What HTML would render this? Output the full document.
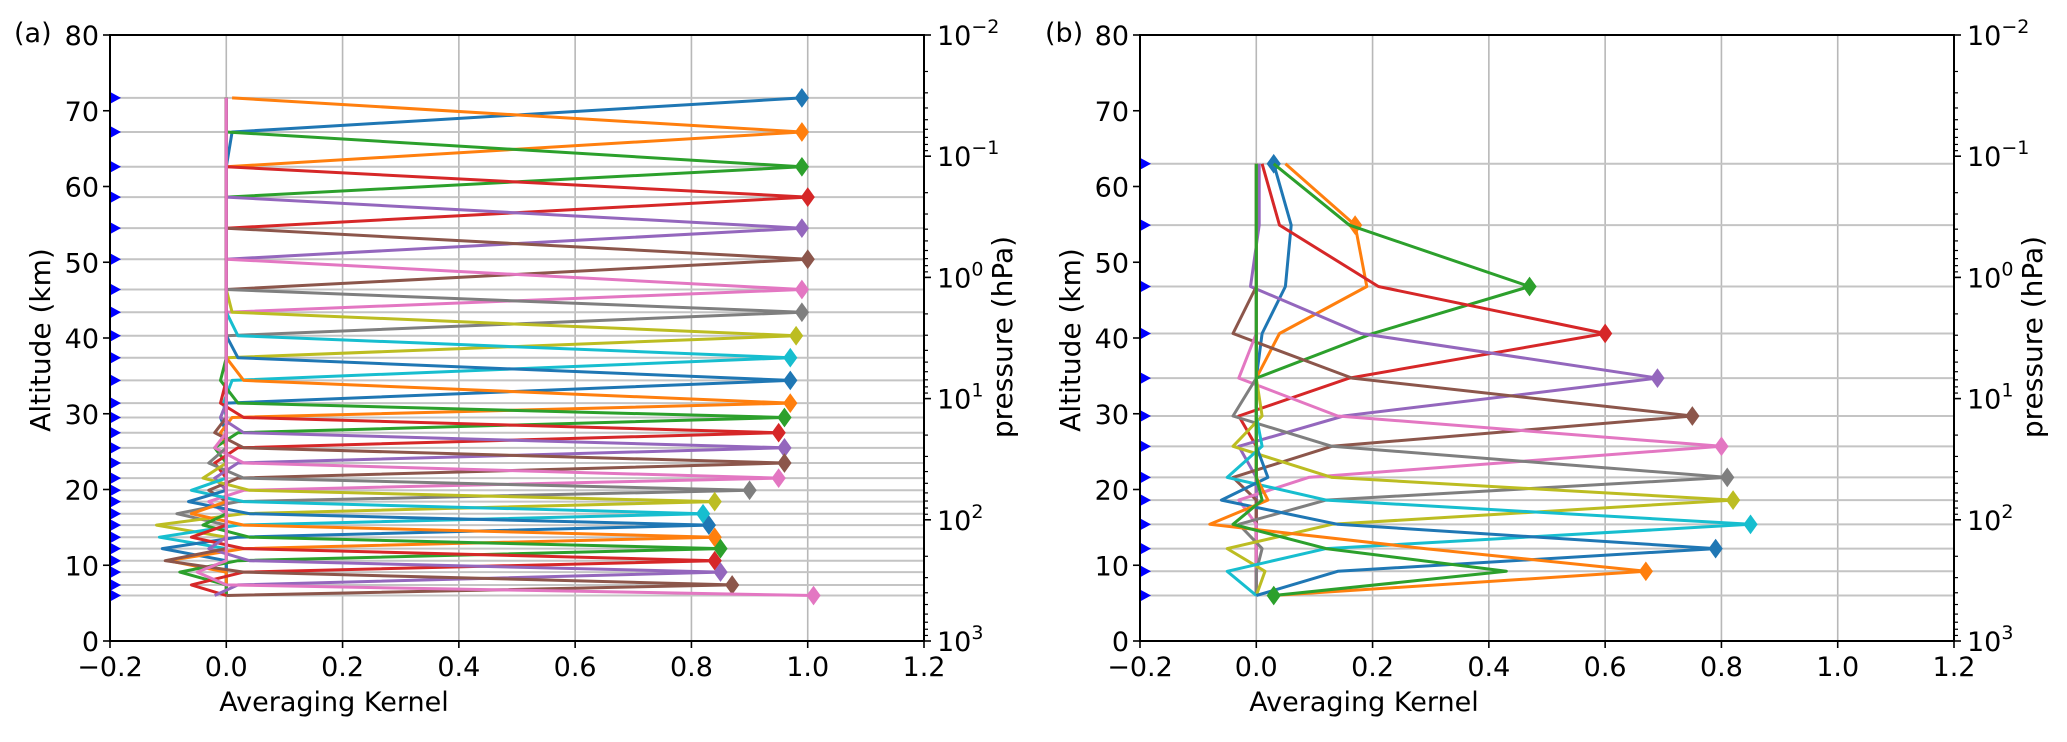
<!DOCTYPE html>
<html>
<head>
<meta charset="utf-8">
<style>
html,body{margin:0;padding:0;background:#fff;}
svg{display:block;}
text{font-family:"DejaVu Sans","Liberation Sans",sans-serif;fill:#000;}
</style>
</head>
<body>
<svg id="chart" width="2067" height="742" viewBox="0 0 2067 742" xmlns="http://www.w3.org/2000/svg"></svg>
<script>
// ---------- Data: panel (a) ----------
const levelsA = [71.7,67.2,62.6,58.6,54.5,50.4,46.4,43.4,40.3,37.4,34.4,31.4,29.5,27.5,25.5,23.5,21.5,19.9,18.4,16.8,15.3,13.7,12.2,10.6,9.1,7.4,6.0];
const peaksA  = [0.99,0.99,0.99,1.0,0.99,1.0,0.99,0.99,0.98,0.97,0.97,0.97,0.96,0.95,0.96,0.96,0.95,0.90,0.84,0.82,0.83,0.84,0.85,0.84,0.85,0.87,1.01];
const above1A = [0,0.01,0.0,0.0,0.0,0.0,0.0,0.0,0.01,0.02,0.02,0.03,0.02,0.03,0.03,0.03,0.03,0.03,0.04,0.03,0.04,0.03,0.04,0.03,0.04,0.03,0.0];
const below1A = [0.01,0.0,0.0,0.0,0.0,0.0,0.0,0.0,0.0,0.01,0.0,0.01,0.02,0.02,0.02,0.02,0.03,0.02,0.03,0.02,0.02,0.03,0.02,0.03,0.02,0.0,0];
const above2A = [0,0,0,0,0,0,0,0,0,0,0,0,-0.01,-0.01,-0.01,-0.02,-0.02,-0.03,-0.04,-0.06,-0.065,-0.06,-0.04,-0.06,-0.03,-0.105,-0.05];
const below2A = [0,0,0,0,0,0,0,0,0,-0.005,-0.01,-0.01,-0.02,-0.02,-0.02,-0.03,-0.03,-0.085,-0.12,-0.115,-0.11,-0.10,-0.08,-0.06,-0.02,0,0];

// ---------- Data: panel (b) ----------
const levelsB = [63.0,54.9,46.8,40.6,34.7,29.7,25.7,21.6,18.6,15.4,12.2,9.2,6.0];
const kernelB0  = [0.03,0.06,0.05,0.01,0.0,0,0,0,0,0,0,0,0];
const kernelB1  = [0.05,0.17,0.19,0.04,0.0,0.0,0,0,0,0,0,0,0];
const kernelB2  = [0.03,0.16,0.47,0.20,0.0,0,0,0,0,0,0,0,0];
const kernelB3  = [0.01,0.04,0.21,0.60,0.16,-0.03,0.0,0.0,0,0,0,0,0];
const kernelB4  = [0.005,0.005,-0.01,0.18,0.69,0.15,-0.03,0.0,0,0,0,0,0];
const kernelB5  = [0,0,0.0,-0.04,0.165,0.75,0.13,-0.04,0.0,0,0,0,0];
const kernelB6  = [0,0,0,0.0,-0.03,0.14,0.80,0.09,-0.03,0.0,0,0,0];
const kernelB7  = [0,0,0,0,0.0,-0.04,0.13,0.81,0.12,-0.03,0.01,0.0,0];
const kernelB8  = [0,0,0,0,0,0.01,-0.04,0.13,0.82,0.13,-0.05,0.015,0.0];
const kernelB9  = [0,0,0,0,0,0,0.01,-0.05,0.12,0.85,0.12,-0.05,0.0];
const kernelB10 = [0,0,0,0,0,0,0,0.02,-0.06,0.14,0.79,0.14,0.0];
const kernelB11 = [0,0,0,0,0,0,0,0.0,0.02,-0.08,0.29,0.67,0.03];
const kernelB12 = [0,0,0,0,0,0,0,0.0,0.01,-0.04,0.12,0.43,0.03];
const kernelsB = [kernelB0,kernelB1,kernelB2,kernelB3,kernelB4,kernelB5,kernelB6,kernelB7,kernelB8,kernelB9,kernelB10,kernelB11,kernelB12];

const xTicks = [-0.2,0.0,0.2,0.4,0.6,0.8,1.0,1.2];
const xTickLabels = ["\u22120.2","0.0","0.2","0.4","0.6","0.8","1.0","1.2"];
const yTicks = [0,10,20,30,40,50,60,70,80];
const pTickExps = [-2,-1,0,1,2,3];
const colors = ["#1f77b4","#ff7f0e","#2ca02c","#d62728","#9467bd","#8c564b","#e377c2","#7f7f7f","#bcbd22","#17becf"];

const NS = "http://www.w3.org/2000/svg";
const svg = document.getElementById("chart");
function mk(tag, attrs, parent){
  const e = document.createElementNS(NS, tag);
  for (const k in attrs) e.setAttribute(k, attrs[k]);
  (parent||svg).appendChild(e);
  return e;
}

// build panel (a) kernel rows from peak + sidelobes
const kernelsA = levelsA.map((_, i) => {
  const row = levelsA.map(() => 0);
  row[i] = peaksA[i];
  if (i-1 >= 0) row[i-1] = above1A[i];
  if (i+1 < row.length) row[i+1] = below1A[i];
  if (i-2 >= 0) row[i-2] = above2A[i];
  if (i+2 < row.length) row[i+2] = below2A[i];
  return row;
});

function panel(cfg){
  const g = mk("g", {});
  
  
  const L=cfg.left, R=cfg.right, T=35, B=641;
  const xs = v => L + (v - (-0.2)) / 1.4 * (R - L);
  const ys = km => B - km / 80 * (B - T);
  const ps = e => T + (e - (-2)) / 5 * (B - T);

  xTicks.forEach(v => {
    const l = mk("line", {x1:xs(v), x2:xs(v), y1:T, y2:B, stroke:"#b8b8b8", "stroke-width":1.6}, g);
    
    
  });
  cfg.levels.forEach(km => {
    const l = mk("line", {x1:L, x2:R, y1:ys(km), y2:ys(km), stroke:"#c4c4c4", "stroke-width":2}, g);
    
    
  });

  cfg.kernels.forEach((row, i) => {
    const c = colors[i % 10];
    const pts = row.map((v, j) => xs(v).toFixed(1) + "," + ys(cfg.levels[j]).toFixed(1)).join(" ");
    const pl = mk("polyline", {points:pts, fill:"none", stroke:c, "stroke-width":3, "stroke-linejoin":"round"}, g);
    
    
    const px = xs(row[i]), py = ys(cfg.levels[i]);
    const d = mk("polygon", {points:`${px},${py-9} ${px+6.5},${py} ${px},${py+9} ${px-6.5},${py}`, fill:c, stroke:c, "stroke-width":1}, g);
    
    
  });

  cfg.levels.forEach(km => {
    const y = ys(km);
    const t = mk("polygon", {points:`${L},${y-6} ${L+11},${y} ${L},${y+6}`, fill:"#0000ff"}, g);
    
    
  });

  const fr = mk("rect", {x:L, y:T, width:R-L, height:B-T, fill:"none", stroke:"#000", "stroke-width":2}, g);
  
  

  xTicks.forEach((v, k) => {
    mk("line", {x1:xs(v), x2:xs(v), y1:B, y2:B+7, stroke:"#000", "stroke-width":1.6}, g);
    const t = mk("text", {x:xs(v), y:676, "font-size":27, "text-anchor":"middle"}, g);
    t.textContent = xTickLabels[k];
    
    
  });
  yTicks.forEach(v => {
    mk("line", {x1:L-7, x2:L, y1:ys(v), y2:ys(v), stroke:"#000", "stroke-width":1.6}, g);
    const t = mk("text", {x:L-11, y:ys(v)+10, "font-size":27, "text-anchor":"end"}, g);
    t.textContent = String(v);
    
    
  });
  pTickExps.forEach(e => {
    mk("line", {x1:R, x2:R+7, y1:ps(e), y2:ps(e), stroke:"#000", "stroke-width":1.6}, g);
    const t = mk("text", {x:R+13, y:ps(e)+10, "font-size":27}, g);
    t.textContent = "10";
    const s = mk("tspan", {dy:-12, "font-size":19}, t);
    s.textContent = (e < 0 ? "\u2212" : "") + Math.abs(e);
    
    
    if (e < 3) {
      for (let m = 2; m <= 9; m++) {
        const y = ps(e + Math.log10(m));
        mk("line", {x1:R, x2:R+4, y1:y, y2:y, stroke:"#000", "stroke-width":1.2}, g);
      }
    }
  });

  const xl = mk("text", {x:L+224, y:711, "font-size":27, "text-anchor":"middle"}, g);
  xl.textContent = "Averaging Kernel";
  
  
  const yl = mk("text", {x:0, y:0, "font-size":28, "text-anchor":"middle", transform:`translate(${L-60},340) rotate(-90)`}, g);
  yl.textContent = "Altitude (km)";
  
  
  const pl2 = mk("text", {x:0, y:0, "font-size":28, "text-anchor":"middle", transform:`translate(${R+88},337) rotate(-90)`}, g);
  pl2.textContent = "pressure (hPa)";
  
  
  const pt = mk("text", {x:cfg.tagX, y:42, "font-size":27}, g);
  pt.textContent = cfg.tag;
  
  
}

panel({name:"panel-a", left:110, right:924, levels:levelsA, kernels:kernelsA, tag:"(a)", tagX:14});
panel({name:"panel-b", left:1140, right:1954, levels:levelsB, kernels:kernelsB, tag:"(b)", tagX:1045});
</script>
</body>
</html>
